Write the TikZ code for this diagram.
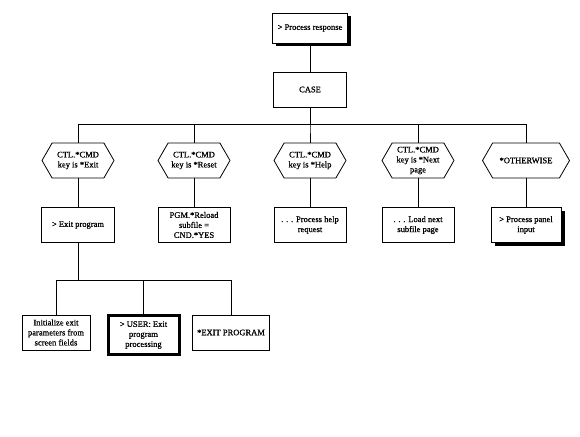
\documentclass[tikz,border=0pt]{standalone}
\usepackage{fontspec}
\setmainfont[FakeBold=0.8,AutoFakeBold=0.8]{Liberation Serif}
\usetikzlibrary{shapes.symbols,shadows}

\tikzset{
    procbox/.style={draw, line width=0.8pt, minimum width=73pt, minimum height=35pt,
        align=center, inner sep=2pt, font=\fontsize{8.5}{10}\selectfont\bfseries},
    casehex/.style={draw, line width=0.8pt, signal, signal to=east and west,
        signal pointer angle=120, minimum width=72pt, minimum height=35pt,
        align=center, inner sep=2pt, font=\fontsize{8.5}{10}\selectfont\bfseries},
    blackshadow/.style={drop shadow={shadow xshift=3.5pt, shadow yshift=-3.5pt,
        fill=black, opacity=1}},
    link/.style={line width=0.8pt},
}

\begin{document}
\begin{tikzpicture}[x=1pt, y=-1pt]
    \useasboundingbox (0, 0) rectangle (580, 436);
    % top of the structure.
    \node[procbox, fill=white, blackshadow, minimum height=30pt, minimum width=75pt] (start) at (310, 28) {> Process response};
    \node[procbox] (case) at (310, 89.5) {CASE};
    \draw[link] (start) -- (case);
    % the five case branches.
    \node[casehex] (exitkey) at (78, 160.5) {CTL.*CMD\\key is *Exit};
    \node[casehex] (resetkey) at (194, 160.5) {CTL.*CMD\\key is *Reset};
    \node[casehex] (helpkey) at (310, 160.5) {CTL.*CMD\\key is *Help};
    \node[casehex] (nextkey) at (418, 160.5) {CTL.*CMD\\key is *Next\\page};
    \node[casehex, minimum width=87pt] (otherwise) at (526, 160.5) {*OTHERWISE};
    \foreach \branch in {exitkey, resetkey, helpkey, nextkey, otherwise}
        \draw[link] (case.south) -- ++(0, 17) -| (\branch.north);
    % actions under each branch.
    \node[procbox] (exitprog) at (78, 225) {> Exit program};
    \node[procbox, minimum width=72pt] (reload) at (194, 225) {PGM.*Reload\\subfile =\\CND.*YES};
    \node[procbox, minimum width=72pt] (helpreq) at (310, 225) {. . . Process help\\request};
    \node[procbox, minimum width=72pt] (nextpage) at (418, 225) {. . . Load next\\subfile page};
    \node[procbox, fill=white, blackshadow, minimum width=70pt] (panel) at (526, 225) {> Process panel\\input};
    \foreach \branch/\action in {exitkey/exitprog, resetkey/reload, helpkey/helpreq,
            nextkey/nextpage, otherwise/panel}
        \draw[link] (\branch.south) -- (\action.north);
    % steps of the exit program.
    \node[procbox, minimum width=68pt] (initparm) at (56, 332.5) {Initialize exit\\parameters from\\screen fields};
    \node[procbox, line width=3pt, minimum width=71pt, minimum height=39pt] (userexit) at (143.5, 335) {> USER: Exit\\program\\processing};
    \node[procbox, minimum width=77pt] (exitpgm) at (231, 332.5) {*EXIT PROGRAM};
    \foreach \step in {initparm, userexit, exitpgm}
        \draw[link] (exitprog.south) -- ++(0, 37) -| (\step.north);
\end{tikzpicture}
\end{document}
